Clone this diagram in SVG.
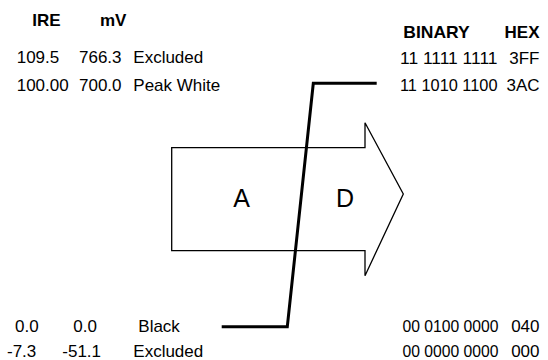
<svg xmlns="http://www.w3.org/2000/svg" width="548" height="360" viewBox="0 0 548 360">
  <style>
    text { font-family: "Liberation Sans", Arial, sans-serif; font-size: 17px; fill: #000; }
    .hd { font-weight: bold; }
    .big { font-size: 25px; text-anchor: middle; }
    .end { text-anchor: end; }
    .arrow { fill: #fff; stroke: #000; stroke-width: 1.3; stroke-linejoin: miter; }
    .curve { fill: none; stroke: #000; stroke-width: 3; stroke-linejoin: miter; }
  </style>
  <rect width="548" height="360" fill="#fff"/>

  <!-- conversion block arrow -->
  <g id="adc-arrow">
    <path class="arrow" d="M171.7,147.7 H365 V122.7 L403.3,194 L365,275.7 V250.7 H171.7 Z"/>
  </g>

  <!-- transfer curve -->
  <g id="connectors">
    <path class="curve" d="M221.7,326.7 H287.3 L313.3,83.3 H376.7"/>
  </g>

  <g id="label-a"><text class="big" x="241.7" y="206.7">A</text></g>
  <g id="label-d"><text class="big" x="345" y="206.7">D</text></g>

  <!-- analog scale -->
  <g id="analog-header">
    <text class="hd" x="32.3" y="26">IRE</text>
    <text class="hd" x="100" y="26">mV</text>
  </g>
  <g id="analog-excluded-high">
    <text x="16.7" y="63.3">109.5</text>
    <text x="79" y="63.3">766.3</text>
    <text x="133.3" y="63.3">Excluded</text>
  </g>
  <g id="analog-peak-white">
    <text x="16.7" y="91">100.00</text>
    <text x="79" y="91">700.0</text>
    <text x="133.3" y="91">Peak White</text>
  </g>
  <g id="analog-black">
    <text x="15" y="331.7">0.0</text>
    <text x="73.3" y="331.7">0.0</text>
    <text x="138.3" y="331.7">Black</text>
  </g>
  <g id="analog-excluded-low">
    <text x="7" y="356.7">-7.3</text>
    <text x="62.3" y="356.7">-51.1</text>
    <text x="133.3" y="356.7">Excluded</text>
  </g>

  <!-- digital scale -->
  <g id="digital-header">
    <text class="hd" x="403.3" y="37.5" textLength="66.5" lengthAdjust="spacingAndGlyphs">BINARY</text>
    <text class="hd end" x="539.5" y="37.5">HEX</text>
  </g>
  <g id="digital-3ff">
    <text x="400" y="64" textLength="97.5" lengthAdjust="spacingAndGlyphs">11 1111 1111</text>
    <text class="end" x="539.5" y="64">3FF</text>
  </g>
  <g id="digital-3ac">
    <text x="400" y="91" textLength="97.5" lengthAdjust="spacingAndGlyphs">11 1010 1100</text>
    <text class="end" x="539.5" y="91">3AC</text>
  </g>
  <g id="digital-040">
    <text x="402.5" y="331.7" textLength="96" lengthAdjust="spacingAndGlyphs">00 0100 0000</text>
    <text class="end" x="539.5" y="331.7">040</text>
  </g>
  <g id="digital-000">
    <text x="402.5" y="356.7" textLength="96" lengthAdjust="spacingAndGlyphs">00 0000 0000</text>
    <text class="end" x="539.5" y="356.7">000</text>
  </g>
</svg>
